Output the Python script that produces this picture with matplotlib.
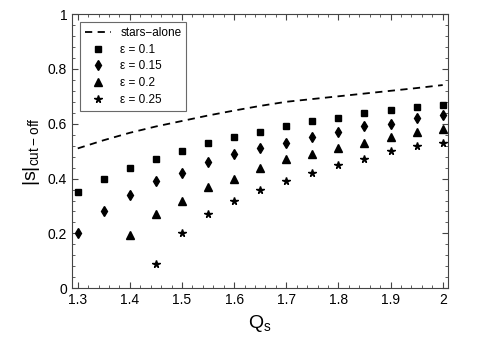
import numpy as np
import matplotlib
matplotlib.use("Agg")
import matplotlib.pyplot as plt
from matplotlib.ticker import MultipleLocator

plt.rcParams['font.family'] = ['Liberation Sans', 'DejaVu Sans']

# data
q_all = [1.3, 1.35, 1.4, 1.45, 1.5, 1.55, 1.6, 1.65, 1.7, 1.75, 1.8, 1.85, 1.9, 1.95, 2.0]
stars_alone = [0.51, 0.54, 0.567, 0.59, 0.61, 0.63, 0.648, 0.665, 0.68, 0.69, 0.70, 0.71, 0.72, 0.73, 0.741]

eps01 = [0.35, 0.40, 0.44, 0.47, 0.50, 0.53, 0.55, 0.57, 0.59, 0.61, 0.62, 0.64, 0.65, 0.66, 0.67]
eps015 = [0.20, 0.28, 0.34, 0.39, 0.42, 0.46, 0.49, 0.51, 0.53, 0.55, 0.57, 0.59, 0.60, 0.62, 0.63]
q_eps02 = q_all[2:]
eps02 = [0.195, 0.27, 0.32, 0.37, 0.40, 0.44, 0.47, 0.49, 0.51, 0.53, 0.55, 0.57, 0.58]
q_eps025 = q_all[3:]
eps025 = [0.09, 0.20, 0.27, 0.32, 0.36, 0.39, 0.42, 0.45, 0.47, 0.50, 0.52, 0.53]

fig = plt.figure(figsize=(4.85, 3.46), dpi=100)
ax = fig.add_axes([0.1485, 0.1668, 0.7745, 0.7927])

ax.plot(q_all, stars_alone, 'k--', lw=1.3, dashes=(4, 3), label='stars\u2212alone')
ax.plot(q_all, eps01, 'ks', ms=4.3, ls='none', label='\u03b5 = 0.1')
ax.plot(q_all, eps015, 'kd', ms=5, ls='none', label='\u03b5 = 0.15')
ax.plot(q_eps02, eps02, 'k^', ms=5.5, ls='none', label='\u03b5 = 0.2')
ax.plot(q_eps025, eps025, 'k*', ms=5.5, ls='none', label='\u03b5 = 0.25')

ax.set_xlim(1.289, 2.0095)
ax.set_ylim(0, 1)
ax.set_xticks(np.arange(1.3, 2.01, 0.1))
ax.set_xticklabels(['1.3', '1.4', '1.5', '1.6', '1.7', '1.8', '1.9', '2'])
ax.set_yticks([0, 0.2, 0.4, 0.6, 0.8, 1.0])
ax.set_yticklabels(['0', '0.2', '0.4', '0.6', '0.8', '1'])
ax.xaxis.set_minor_locator(MultipleLocator(0.02))
ax.yaxis.set_minor_locator(MultipleLocator(0.04))
ax.tick_params(which='both', direction='in', top=True, right=True, labelsize=10, color='#444444')
ax.tick_params(which='major', length=4)
ax.tick_params(which='minor', length=2)
for s in ax.spines.values():
    s.set_color('#444444')
    s.set_linewidth(0.8)

ax.set_xlabel('Q$_\\mathregular{s}$', fontsize=14)
ax.set_ylabel('|s|$_\\mathregular{cut\u2212off}$', fontsize=14)

leg = ax.legend(loc='upper left', fontsize=8.5, fancybox=False, edgecolor='#444444',
                handlelength=2.2, borderaxespad=0.7, labelspacing=0.4)
leg.get_frame().set_linewidth(0.8)

fig.savefig('out.png', dpi=100)
